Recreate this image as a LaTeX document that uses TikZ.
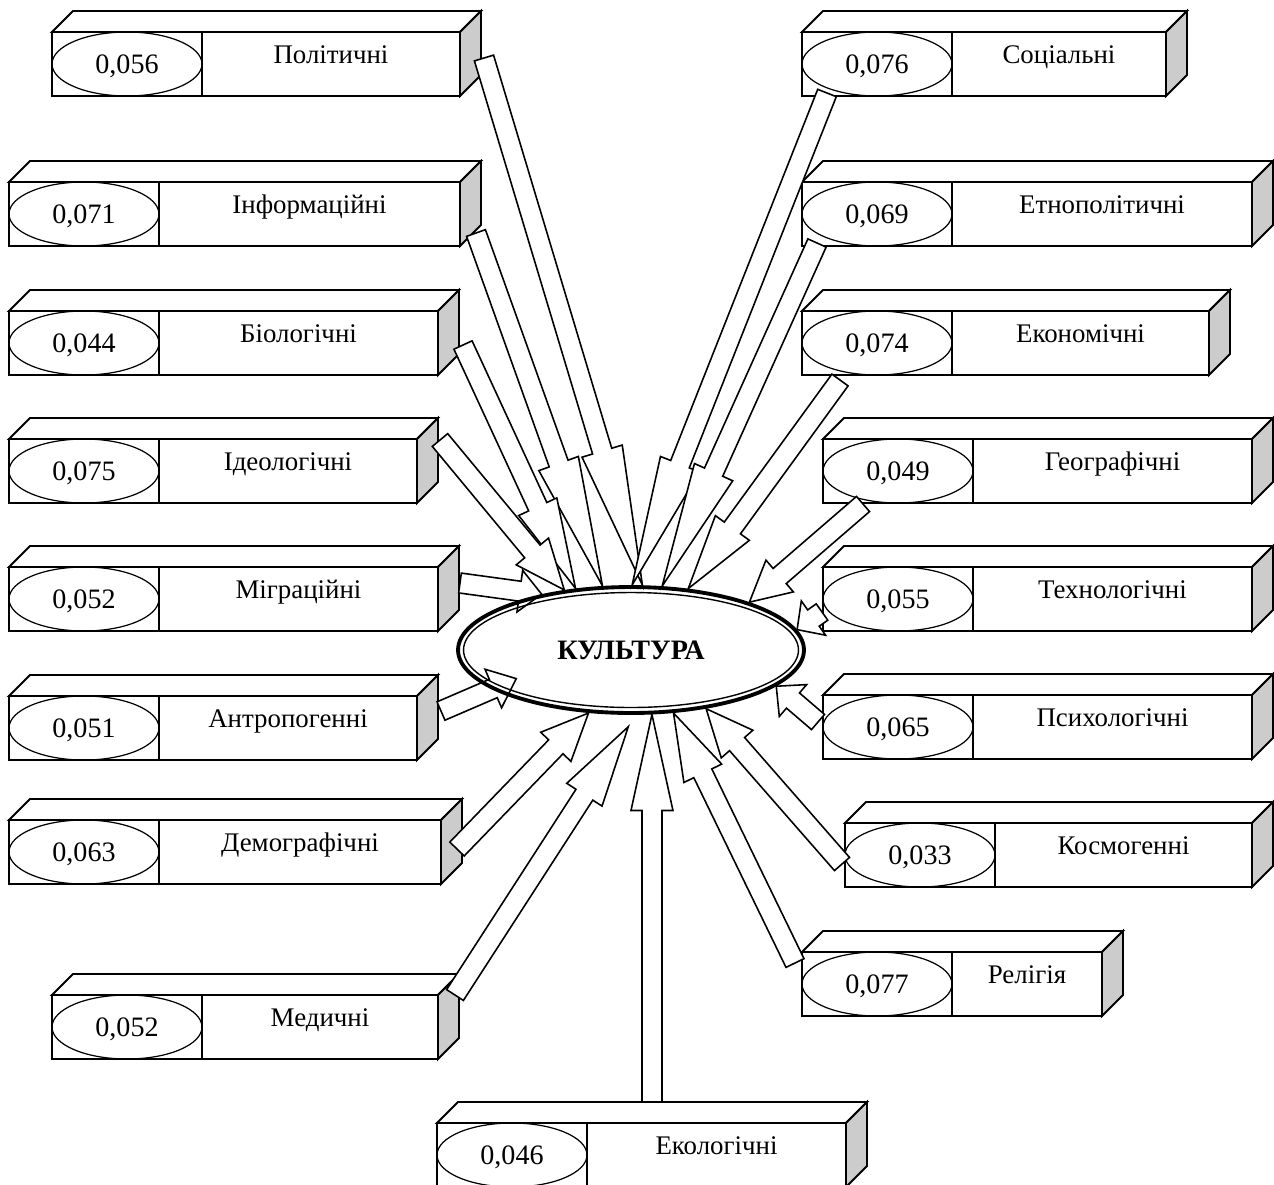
\documentclass[tikz,border=0pt]{standalone}
\usepackage{fontspec}
\setmainfont{Liberation Serif}
\usetikzlibrary{calc, shapes.geometric}
\definecolor{sidegray}{gray}{0.8}
\tikzset{
    boxline/.style={line width=1.1pt},
    boxfront/.style={draw, boxline, fill=white, rectangle, minimum height=1.28cm, inner sep=0, outer sep=0},
    scoreoval/.style={draw, ellipse, line width=0.7pt, minimum width=3cm, minimum height=1.28cm, inner sep=0,
        font=\fontsize{16}{19}\selectfont, text height=10.9pt, text depth=0pt},
    factortext/.style={font=\fontsize{15.3}{18}\selectfont, inner sep=0},
    arrowbody/.style={draw, fill=white, line width=0.9pt, line join=miter}
}
\newcommand{\factorbox}[6]{%
    \node[boxfront, minimum width=#4*0.02cm, anchor=north west] at (#2, #3) (b_#1) {};
    \filldraw[boxline, fill=white] (b_#1.north west) -- ++(21, -21) -- ++(#4, 0) -- (b_#1.north east) -- cycle;
    \filldraw[boxline, fill=sidegray] (b_#1.north east) -- ++(21, -21) -- ++(0, 64) -- (b_#1.south east) -- cycle;
    \node[scoreoval] at ($(b_#1.west)+(75, 0)$) (v_#1) {#5};
    \draw[boxline] ($(b_#1.north west)+(150, 0)$) -- ($(b_#1.south west)+(150, 0)$);
    \node[factortext, anchor=base] at ($(b_#1.north west)+({75+#4/2}, 31)$) (l_#1) {#6};
}
\newcommand{\inflow}[3]{%
    \coordinate (h_base) at ($(#2)!#3!(#1)$);
    \filldraw[arrowbody] ($(#1)!0.2cm!90:(#2)$) -- ($(h_base)!0.2cm!90:(#2)$) -- ($(h_base)!0.42cm!90:(#2)$)
        -- (#2) -- ($(h_base)!0.42cm!-90:(#2)$) -- ($(h_base)!0.2cm!-90:(#2)$) -- ($(#1)!0.2cm!-90:(#2)$) -- cycle;
}

\begin{document}
\begin{tikzpicture}[x=0.02cm, y=-0.02cm]
    \useasboundingbox (0, 0) rectangle (1274, 1184);

    \factorbox{pol}{52}{32}{408}{0,056}{Політичні}
    \factorbox{inf}{9}{182}{451}{0,071}{Інформаційні}
    \factorbox{bio}{9}{311}{429}{0,044}{Біологічні}
    \factorbox{ide}{9}{439}{408}{0,075}{Ідеологічні}
    \factorbox{mig}{9}{567}{429}{0,052}{Міграційні}
    \factorbox{ant}{9}{696}{408}{0,051}{Антропогенні}
    \factorbox{dem}{9}{820}{432}{0,063}{Демографічні}
    \factorbox{med}{52}{995}{386}{0,052}{Медичні}
    \factorbox{eco}{437}{1123}{409}{0,046}{Екологічні}
    \factorbox{soc}{802}{32}{364}{0,076}{Соціальні}
    \factorbox{etn}{802}{182}{450}{0,069}{Етнополітичні}
    \factorbox{ekn}{802}{311}{407}{0,074}{Економічні}
    \factorbox{geo}{823}{439}{429}{0,049}{Географічні}
    \factorbox{tec}{823}{567}{429}{0,055}{Технологічні}
    \factorbox{psy}{823}{695}{429}{0,065}{Психологічні}
    \factorbox{kos}{845}{823}{407}{0,033}{Космогенні}
    \factorbox{rel}{802}{952}{300}{0,077}{Релігія}

    \node[ellipse, minimum width=7cm, minimum height=2.6cm, inner sep=0, outer sep=0,
        font=\bfseries\fontsize{16}{19}\selectfont, text height=10.6pt, text depth=0pt] at (631, 650) (kult) {КУЛЬТУРА};

    \coordinate (t_pol) at (484, 58);
    \coordinate (t_inf) at (476, 233);
    \coordinate (t_bio) at (463, 345);
    \coordinate (t_ide) at (440, 440);
    \coordinate (t_mig) at (460, 583);
    \coordinate (t_ant) at (441, 711);
    \coordinate (t_dem) at (457, 849);
    \coordinate (t_med) at (455, 995);
    \coordinate (t_eco) at (652, 1102);
    \coordinate (t_soc) at (827, 93);
    \coordinate (t_etn) at (817, 243);
    \coordinate (t_ekn) at (840, 380);
    \coordinate (t_geo) at (863, 504);
    \coordinate (t_tec) at (822, 612);
    \coordinate (t_psy) at (818, 722);
    \coordinate (t_kos) at (842, 864);
    \coordinate (t_rel) at (795, 963);
    \coordinate (k_ant) at ($(kult.center)!0.79!(kult.-166)$);
    \coordinate (k_med) at ($(kult.center)!1.18!(kult.-92)$);

    \inflow{t_pol}{kult.80.2}{2.8cm}
    \inflow{t_inf}{kult.114}{2.6cm}
    \inflow{t_bio}{kult.132.2}{1.8cm}
    \inflow{t_ide}{kult.138.6}{1cm}
    \inflow{t_mig}{kult.148.4}{0.44cm}
    \inflow{t_ant}{k_ant}{0.5cm}
    \inflow{t_dem}{kult.-124.4}{0.94cm}
    \inflow{t_med}{k_med}{1.62cm}
    \inflow{t_eco}{kult.-72.6}{1.92cm}
    \inflow{t_soc}{kult.89}{2.6cm}
    \inflow{t_etn}{kult.64.2}{2.5cm}
    \inflow{t_ekn}{kult.47.4}{1.5cm}
    \inflow{t_geo}{kult.22}{0.8cm}
    \inflow{t_tec}{kult.7.8}{0.4cm}
    \inflow{t_psy}{kult.-14.6}{0.44cm}
    \inflow{t_kos}{kult.-38.7}{0.94cm}
    \inflow{t_rel}{kult.-56.7}{1.34cm}

    \draw[line width=2.2pt] (kult.center) ellipse [x radius=3.46cm, y radius=1.26cm];
    \draw[line width=0.8pt] (kult.center) ellipse [x radius=3.35cm, y radius=1.15cm];
\end{tikzpicture}
\end{document}
